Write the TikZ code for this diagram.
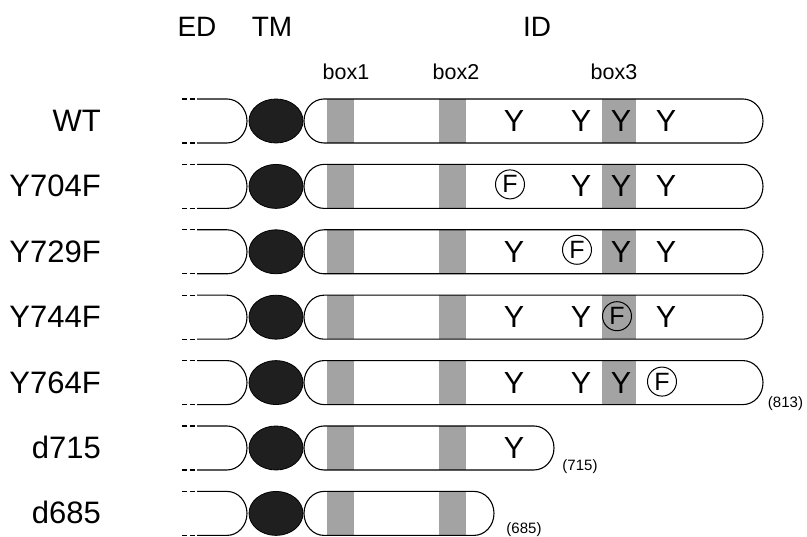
\documentclass[tikz,border=0pt]{standalone}
\usepackage{fontspec}
\setmainfont{Liberation Sans}
\usetikzlibrary{shapes.geometric}

% One receptor chain: label, extracellular stub (ED), transmembrane
% ellipse (TM) and the intracellular domain (ID) with its boxes.
% #1 centre height, #2 name prefix, #3 label, #4 right end of ID, #5 box3 present
\newcommand\receptorchain[5]{%
  \node[rowlab] (#2lab) at (101,#1-10.5) {#3};
  % extracellular stub, open to the left
  \draw[edtail] (182,#1+22) -- (197,#1+22);
  \draw[edtail] (182,#1-22) -- (197,#1-22);
  \draw[outline] (197,#1+22) -- (227,#1+22)
    arc[start angle=90,end angle=-90,x radius=20pt,y radius=22pt] -- (197,#1-22);
  % transmembrane segment
  \node[tmdom] (#2tm) at (276,#1) {};
  % shaded boxes inside the intracellular domain
  \fill[boxfill] (327,#1-22) rectangle (354,#1+22);
  \fill[boxfill] (439,#1-22) rectangle (466,#1+22);
  \ifnum#5=1 \fill[boxfill] (602,#1-22) rectangle (636,#1+22);\fi
  % intracellular domain outline
  \draw[outline] (324,#1+22) -- (#4-20,#1+22)
    arc[start angle=90,end angle=-90,x radius=20pt,y radius=22pt]
    -- (324,#1-22)
    arc[start angle=-90,end angle=-270,x radius=20pt,y radius=22pt] -- cycle;
}

\begin{document}
\begin{tikzpicture}[x=1pt,y=1pt,
  rowlab/.style={font=\fontsize{31}{31}\selectfont, anchor=base east, inner sep=0pt},
  head/.style={font=\fontsize{28}{28}\selectfont, anchor=base, inner sep=0pt},
  boxlab/.style={font=\fontsize{21.5}{21.5}\selectfont, anchor=base, inner sep=0pt},
  tyr/.style={font=\fontsize{30.5}{30.5}\selectfont, anchor=base, inner sep=0pt},
  phe/.style={circle, draw, line width=1pt, minimum size=29pt, inner sep=0pt,
    font=\fontsize{25}{25}\selectfont},
  endlab/.style={font=\fontsize{15}{15}\selectfont, anchor=center, inner sep=0pt},
  tmdom/.style={ellipse, fill=black!88, draw=black, line width=0.8pt,
    minimum width=54pt, minimum height=44pt, inner sep=0pt},
  outline/.style={line width=1.1pt},
  edtail/.style={line width=1.1pt, dash pattern=on 5pt off 3pt},
  boxfill/.style={fill=black!36}
]
\useasboundingbox (0,0) rectangle (807,537);

% column headings
\node[head] (hED) at (197,500) {ED};
\node[head] (hTM) at (272,500) {TM};
\node[head] (hID) at (537,500) {ID};
\node[boxlab] (hbox1) at (346,457) {box1};
\node[boxlab] (hbox2) at (456,457) {box2};
\node[boxlab] (hbox3) at (614,457) {box3};

% wild type
\receptorchain{416}{wt}{WT}{763}{1}
\node[tyr] (wtA) at (514,416-10.5) {Y};
\node[tyr] (wtB) at (581,416-10.5) {Y};
\node[tyr] (wtC) at (621,416-10.5) {Y};
\node[tyr] (wtD) at (666,416-10.5) {Y};

% Y704F
\receptorchain{350.6}{ma}{Y704F}{763}{1}
\node[phe] (maA) at (510,350.6+2) {F};
\node[tyr] (maB) at (581,350.6-10.5) {Y};
\node[tyr] (maC) at (621,350.6-10.5) {Y};
\node[tyr] (maD) at (666,350.6-10.5) {Y};

% Y729F
\receptorchain{285.2}{mb}{Y729F}{763}{1}
\node[tyr] (mbA) at (514,285.2-10.5) {Y};
\node[phe] (mbB) at (577,285.2+2) {F};
\node[tyr] (mbC) at (621,285.2-10.5) {Y};
\node[tyr] (mbD) at (666,285.2-10.5) {Y};

% Y744F
\receptorchain{219.8}{mc}{Y744F}{763}{1}
\node[tyr] (mcA) at (514,219.8-10.5) {Y};
\node[tyr] (mcB) at (581,219.8-10.5) {Y};
\node[phe] (mcC) at (617,219.8+1) {F};
\node[tyr] (mcD) at (666,219.8-10.5) {Y};

% Y764F
\receptorchain{154.4}{md}{Y764F}{763}{1}
\node[tyr] (mdA) at (514,154.4-10.5) {Y};
\node[tyr] (mdB) at (581,154.4-10.5) {Y};
\node[tyr] (mdC) at (621,154.4-10.5) {Y};
\node[phe] (mdD) at (662,154.4+1) {F};
\node[endlab] (mdend) at (785.5,133) {(813)};

% truncation at 715
\receptorchain{89}{ta}{d715}{554}{0}
\node[tyr] (taA) at (514,89-10.5) {Y};
\node[endlab] (taend) at (580,70) {(715)};

% truncation at 685
\receptorchain{23.6}{tb}{d685}{494}{0}
\node[endlab] (tbend) at (524,7.5) {(685)};
\end{tikzpicture}
\end{document}
